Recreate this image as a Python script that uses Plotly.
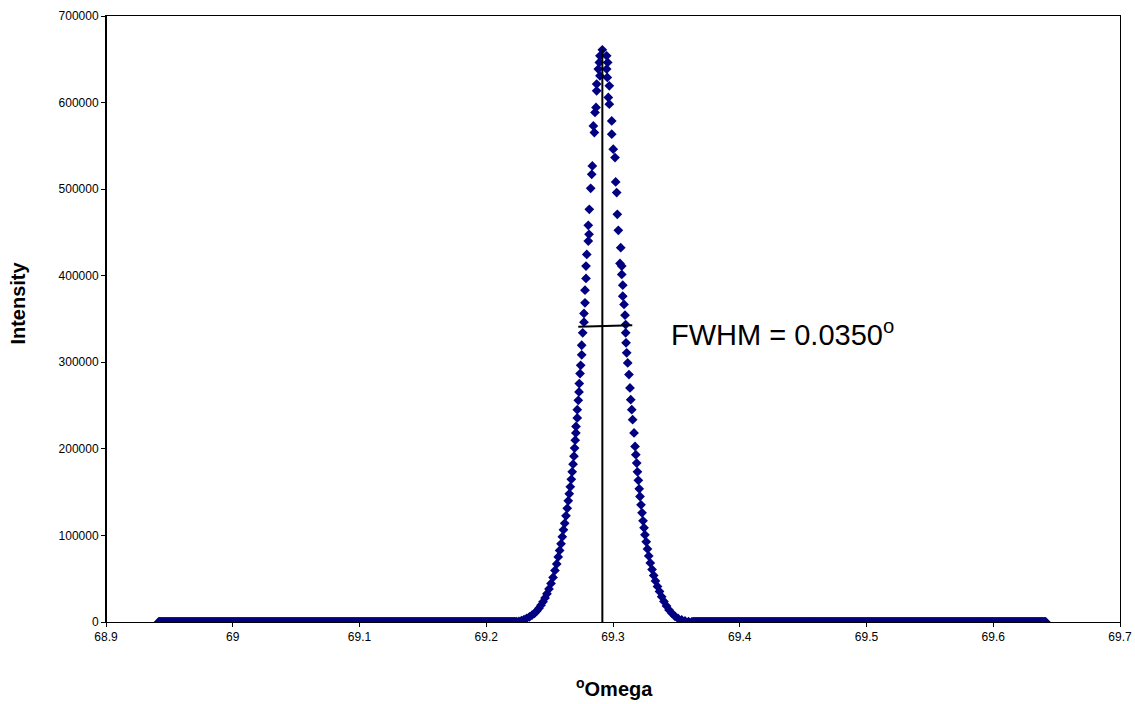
import numpy as np
import plotly.graph_objects as go

# ---- data ----
# left flank of the rocking curve (omega in degrees, intensity in counts)
left_omega = [69.2240, 69.2258, 69.2278, 69.2298, 69.2319, 69.2341, 69.2361, 69.2381,
              69.2400, 69.2416, 69.2432, 69.2448, 69.2464, 69.2479, 69.2495, 69.2511,
              69.2527, 69.2542, 69.2556, 69.2568, 69.2579, 69.2590, 69.2600, 69.2609,
              69.2619, 69.2629, 69.2639, 69.2647, 69.2655, 69.2663, 69.2671, 69.2678,
              69.2685, 69.2692, 69.2697, 69.2702, 69.2707, 69.2708, 69.2718, 69.2718,
              69.2726, 69.2732, 69.2734, 69.2740, 69.2745, 69.2753, 69.2753, 69.2761,
              69.2771, 69.2771, 69.2779, 69.2779, 69.2787, 69.2787, 69.2793, 69.2805,
              69.2811, 69.2805, 69.2813, 69.2824, 69.2832, 69.2837, 69.2853, 69.2845,
              69.2858, 69.2866, 69.2871, 69.2871, 69.2897, 69.2884, 69.2892, 69.2897,
              69.2916]
left_intensity = [300, 810, 1620, 2780, 4280, 6020, 7870, 10070,
                  12960, 15970, 19440, 23370, 27770, 32630, 38180, 44540,
                  51490, 59590, 67110, 75210, 82730, 90250, 98350, 106440,
                  113960, 122640, 131320, 140000, 148100, 156200, 164870, 173550,
                  182230, 191480, 200970, 209990, 218330, 225960, 235680, 245280,
                  256040, 265760, 275370, 286940, 296540, 308570, 319680, 334030,
                  346290, 356360, 368740, 383320, 396850, 411080, 424620, 440010,
                  447760, 458170, 476680, 500980, 517180, 526780, 565420, 573060,
                  588570, 594350, 613560, 621310, 630910, 638660, 646410, 654050,
                  661000]

# right flank
right_omega = [69.2950, 69.2958, 69.2950, 69.2955, 69.2971, 69.2963, 69.2971, 69.2990,
               69.2990, 69.3002, 69.3016, 69.3021, 69.3029, 69.3034, 69.3042, 69.3061,
               69.3055, 69.3069, 69.3069, 69.3077, 69.3077, 69.3087, 69.3095, 69.3100,
               69.3100, 69.3103, 69.3108, 69.3116, 69.3126, 69.3134, 69.3140, 69.3148,
               69.3155, 69.3166, 69.3174, 69.3180, 69.3187, 69.3193, 69.3200, 69.3207,
               69.3213, 69.3221, 69.3229, 69.3237, 69.3245, 69.3252, 69.3262, 69.3272,
               69.3282, 69.3294, 69.3308, 69.3321, 69.3335, 69.3351, 69.3367, 69.3384,
               69.3402, 69.3422, 69.3442, 69.3466, 69.3489, 69.3513, 69.3542, 69.3568,
               69.3596, 69.3621]
right_intensity = [654050, 646410, 638660, 629070, 619350, 605930, 598170, 578850,
                   563460, 546100, 536500, 508270, 496000, 470900, 452390, 432370,
                   414210, 411080, 401480, 389100, 376380, 366770, 354390, 343630,
                   334030, 322460, 310890, 299310, 285780, 270390, 256850, 245280,
                   233710, 218330, 202820, 193220, 183610, 173550, 163720, 153880,
                   144970, 135370, 126110, 116860, 108760, 100660, 92560, 84460,
                   76360, 68260, 60740, 53800, 47440, 41070, 35290, 29270,
                   23720, 18510, 13880, 9830, 6590, 4050, 2310, 1160,
                   460, 230]

# flat background of the scan (intensity ~0)
scan_start = 68.9415
scan_end = 69.6415
scan_step = 0.0005
peak_lo = 69.2235
peak_hi = 69.3625
background_level = 0

# peak position line and FWHM bar
peak_omega = 69.2916
peak_max = 661000
fwhm_omega = [69.2726, 69.3152]
fwhm_intensity = [340970, 342820]
fwhm_text = "FWHM = 0.0350<sup>o</sup>"

x_ticks = [68.9, 69.0, 69.1, 69.2, 69.3, 69.4, 69.5, 69.6, 69.7]
x_tick_labels = ["68.9", "69", "69.1", "69.2", "69.3", "69.4", "69.5", "69.6", "69.7"]
y_ticks = [0, 100000, 200000, 300000, 400000, 500000, 600000, 700000]

# ---- build series ----
grid = np.round(np.arange(scan_start, scan_end + scan_step / 2, scan_step), 4)
bg_x = [v for v in grid if v < peak_lo or v > peak_hi]
bg_y = [background_level] * len(bg_x)

xs = list(bg_x) + left_omega + right_omega
ys = bg_y + left_intensity + right_intensity

FONT = "Liberation Sans, Arial, sans-serif"
NAVY = "#000080"

fig = go.Figure()
fig.add_trace(go.Scatter(
    x=xs, y=ys, mode="markers",
    marker=dict(symbol="diamond", size=7.5, color=NAVY, line=dict(width=0)),
    showlegend=False, hoverinfo="skip"))
fig.add_trace(go.Scatter(
    x=[peak_omega, peak_omega], y=[0, peak_max], mode="lines",
    line=dict(color="black", width=2), showlegend=False, hoverinfo="skip"))
fig.add_trace(go.Scatter(
    x=fwhm_omega, y=fwhm_intensity, mode="lines",
    line=dict(color="black", width=2), showlegend=False, hoverinfo="skip"))

fig.add_annotation(x=69.3442, y=334400, xref="x", yref="y", text=fwhm_text,
                   showarrow=False, xanchor="left", yanchor="middle",
                   font=dict(family=FONT, size=29, color="black"))

# axis titles
fig.add_annotation(x=-0.0868, y=0.527, xref="paper", yref="paper", text="<b>Intensity</b>",
                   textangle=-90, showarrow=False, xanchor="center", yanchor="middle",
                   font=dict(family=FONT, size=20, color="black"))
fig.add_annotation(x=0.501, y=-0.108, xref="paper", yref="paper",
                   text="<b><sup>o</sup>Omega</b>",
                   showarrow=False, xanchor="center", yanchor="middle",
                   font=dict(family=FONT, size=20, color="black"))

fig.update_layout(
    width=1135, height=704,
    margin=dict(l=106, r=15, t=16, b=82, autoexpand=False),
    paper_bgcolor="white", plot_bgcolor="white",
    font=dict(family=FONT, size=12, color="black"),
)
fig.update_xaxes(range=[68.9, 69.7], tickvals=x_ticks, ticktext=x_tick_labels,
                 showgrid=False, zeroline=False, showline=True, mirror=True,
                 linecolor="black", linewidth=1, ticks="outside", ticklen=4,
                 tickcolor="black", tickfont=dict(family=FONT, size=12, color="black"))
fig.update_yaxes(range=[0, 700000], tickvals=y_ticks, tickformat="d",
                 showgrid=False, zeroline=False, showline=True, mirror=True,
                 linecolor="black", linewidth=1, ticks="outside", ticklen=4,
                 tickcolor="black", tickfont=dict(family=FONT, size=12, color="black"))
# heavier left axis line as in the reference
fig.add_shape(type="line", xref="paper", yref="paper", x0=0, x1=0, y0=0, y1=1,
              line=dict(color="black", width=2))

fig.write_html("out.html",
               config={"displayModeBar": False, "staticPlot": True},
               post_script="document.body.style.margin='0';document.body.style.overflow='hidden';")
